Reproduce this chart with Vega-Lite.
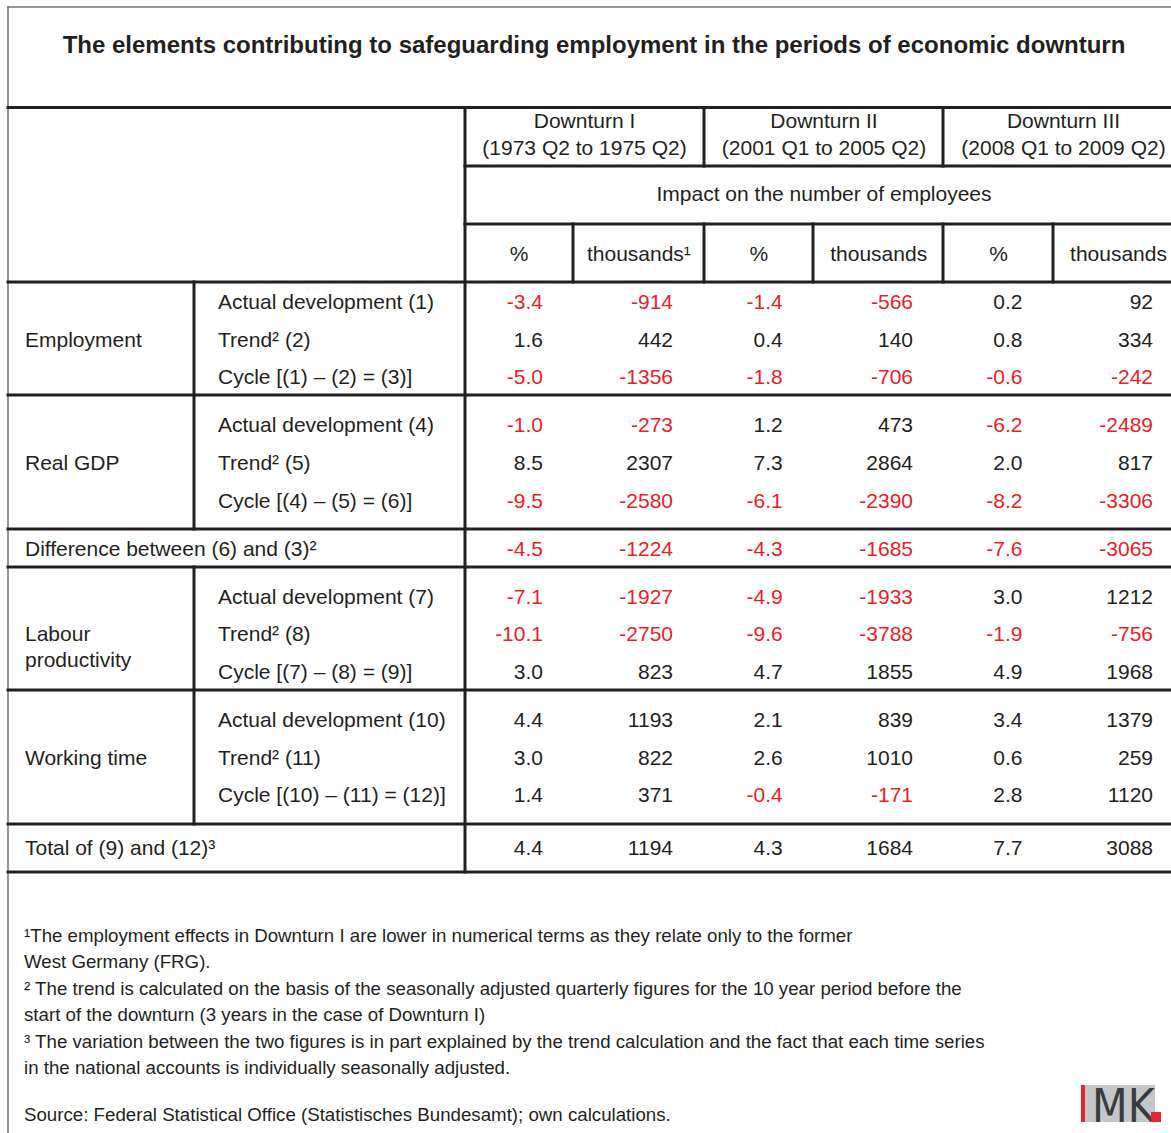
{
  "$schema": "https://vega.github.io/schema/vega-lite/v6.json",
  "width": 1171,
  "height": 1133,
  "autosize": {"type": "none"},
  "padding": 0,
  "background": "white",
  "config": {
    "view": {"stroke": null},
    "locale": {"number": {"decimal": ".", "thousands": ",", "grouping": [3], "currency": ["", ""], "minus": "-"}},
    "text": {"font": "Liberation Sans, Arial, sans-serif", "fontSize": 21, "color": "#231f20", "baseline": "middle"}
  },
  "datasets": {
    "lines": [
      {"kind": "frame", "x0": 0, "x1": 8, "y0": -0.5, "y1": -0.5},
      {"kind": "frame", "x0": 0, "x1": 0, "y0": -0.5, "y1": 25.5},
      {"kind": "grid", "x0": 0, "x1": 8, "y0": 0.5, "y1": 0.5},
      {"kind": "grid", "x0": 2, "x1": 8, "y0": 2.5, "y1": 2.5},
      {"kind": "grid", "x0": 2, "x1": 8, "y0": 3.5, "y1": 3.5},
      {"kind": "grid", "x0": 0, "x1": 8, "y0": 4.5, "y1": 4.5},
      {"kind": "grid", "x0": 0, "x1": 8, "y0": 7.5, "y1": 7.5},
      {"kind": "grid", "x0": 0, "x1": 8, "y0": 10.5, "y1": 10.5},
      {"kind": "grid", "x0": 0, "x1": 8, "y0": 11.5, "y1": 11.5},
      {"kind": "grid", "x0": 0, "x1": 8, "y0": 14.5, "y1": 14.5},
      {"kind": "grid", "x0": 0, "x1": 8, "y0": 17.5, "y1": 17.5},
      {"kind": "grid", "x0": 0, "x1": 8, "y0": 18.5, "y1": 18.5},
      {"kind": "grid", "x0": 2, "x1": 2, "y0": 0.5, "y1": 18.5},
      {"kind": "grid", "x0": 1, "x1": 1, "y0": 4.5, "y1": 10.5},
      {"kind": "grid", "x0": 1, "x1": 1, "y0": 11.5, "y1": 17.5},
      {"kind": "grid", "x0": 4, "x1": 4, "y0": 0.5, "y1": 2.5},
      {"kind": "grid", "x0": 6, "x1": 6, "y0": 0.5, "y1": 2.5},
      {"kind": "grid", "x0": 3, "x1": 3, "y0": 3.5, "y1": 4.5},
      {"kind": "grid", "x0": 4, "x1": 4, "y0": 3.5, "y1": 4.5},
      {"kind": "grid", "x0": 5, "x1": 5, "y0": 3.5, "y1": 4.5},
      {"kind": "grid", "x0": 6, "x1": 6, "y0": 3.5, "y1": 4.5},
      {"kind": "grid", "x0": 7, "x1": 7, "y0": 3.5, "y1": 4.5}
    ],
    "heads": [
      {"text": "Downturn I", "downturn": "I", "row": 1},
      {"text": "(1973 Q2 to 1975 Q2)", "downturn": "I", "row": 2},
      {"text": "Downturn II", "downturn": "II", "row": 1},
      {"text": "(2001 Q1 to 2005 Q2)", "downturn": "II", "row": 2},
      {"text": "Downturn III", "downturn": "III", "row": 1},
      {"text": "(2008 Q1 to 2009 Q2)", "downturn": "III", "row": 2},
      {"text": "Impact on the number of employees", "downturn": "II", "row": 3}
    ],
    "units": [
      {"text": "%", "col": 1, "row": 4},
      {"text": "thousands¹", "col": 2, "row": 4},
      {"text": "%", "col": 3, "row": 4},
      {"text": "thousands", "col": 4, "row": 4},
      {"text": "%", "col": 5, "row": 4},
      {"text": "thousands", "col": 6, "row": 4}
    ],
    "labels": [
      {"text": "Employment", "level": 0, "row": 6},
      {"text": "Actual development (1)", "level": 1, "row": 5},
      {"text": "Trend² (2)", "level": 1, "row": 6},
      {"text": "Cycle [(1) – (2) = (3)]", "level": 1, "row": 7},
      {"text": "Real GDP", "level": 0, "row": 9},
      {"text": "Actual development (4)", "level": 1, "row": 8},
      {"text": "Trend² (5)", "level": 1, "row": 9},
      {"text": "Cycle [(4) – (5) = (6)]", "level": 1, "row": 10},
      {"text": "Difference between (6) and (3)²", "level": 0, "row": 11},
      {"text": "Labour\nproductivity", "level": 0, "row": 13},
      {"text": "Actual development (7)", "level": 1, "row": 12},
      {"text": "Trend² (8)", "level": 1, "row": 13},
      {"text": "Cycle [(7) – (8) = (9)]", "level": 1, "row": 14},
      {"text": "Working time", "level": 0, "row": 16},
      {"text": "Actual development (10)", "level": 1, "row": 15},
      {"text": "Trend² (11)", "level": 1, "row": 16},
      {"text": "Cycle [(10) – (11) = (12)]", "level": 1, "row": 17},
      {"text": "Total of (9) and (12)³", "level": 0, "row": 18}
    ],
    "notes": [
      {"text": "¹The employment effects in Downturn I are lower in numerical terms as they relate only to the former", "row": 19},
      {"text": "West Germany (FRG).", "row": 20},
      {"text": "² The trend is calculated on the basis of the seasonally adjusted quarterly figures for the 10 year period before the", "row": 21},
      {"text": "start of the downturn (3 years in the case of Downturn I)", "row": 22},
      {"text": "³ The variation between the two figures is in part explained by the trend calculation and the fact that each time series", "row": 23},
      {"text": "in the national accounts is individually seasonally adjusted.", "row": 24},
      {"text": "Source: Federal Statistical Office (Statistisches Bundesamt); own calculations.", "row": 25}
    ],
    "values": [
      {"row": 5, "downturn": "I", "unit": "%", "value": -3.4},
      {"row": 5, "downturn": "I", "unit": "thousands", "value": -914},
      {"row": 5, "downturn": "II", "unit": "%", "value": -1.4},
      {"row": 5, "downturn": "II", "unit": "thousands", "value": -566},
      {"row": 5, "downturn": "III", "unit": "%", "value": 0.2},
      {"row": 5, "downturn": "III", "unit": "thousands", "value": 92},
      {"row": 6, "downturn": "I", "unit": "%", "value": 1.6},
      {"row": 6, "downturn": "I", "unit": "thousands", "value": 442},
      {"row": 6, "downturn": "II", "unit": "%", "value": 0.4},
      {"row": 6, "downturn": "II", "unit": "thousands", "value": 140},
      {"row": 6, "downturn": "III", "unit": "%", "value": 0.8},
      {"row": 6, "downturn": "III", "unit": "thousands", "value": 334},
      {"row": 7, "downturn": "I", "unit": "%", "value": -5.0},
      {"row": 7, "downturn": "I", "unit": "thousands", "value": -1356},
      {"row": 7, "downturn": "II", "unit": "%", "value": -1.8},
      {"row": 7, "downturn": "II", "unit": "thousands", "value": -706},
      {"row": 7, "downturn": "III", "unit": "%", "value": -0.6},
      {"row": 7, "downturn": "III", "unit": "thousands", "value": -242},
      {"row": 8, "downturn": "I", "unit": "%", "value": -1.0},
      {"row": 8, "downturn": "I", "unit": "thousands", "value": -273},
      {"row": 8, "downturn": "II", "unit": "%", "value": 1.2},
      {"row": 8, "downturn": "II", "unit": "thousands", "value": 473},
      {"row": 8, "downturn": "III", "unit": "%", "value": -6.2},
      {"row": 8, "downturn": "III", "unit": "thousands", "value": -2489},
      {"row": 9, "downturn": "I", "unit": "%", "value": 8.5},
      {"row": 9, "downturn": "I", "unit": "thousands", "value": 2307},
      {"row": 9, "downturn": "II", "unit": "%", "value": 7.3},
      {"row": 9, "downturn": "II", "unit": "thousands", "value": 2864},
      {"row": 9, "downturn": "III", "unit": "%", "value": 2.0},
      {"row": 9, "downturn": "III", "unit": "thousands", "value": 817},
      {"row": 10, "downturn": "I", "unit": "%", "value": -9.5},
      {"row": 10, "downturn": "I", "unit": "thousands", "value": -2580},
      {"row": 10, "downturn": "II", "unit": "%", "value": -6.1},
      {"row": 10, "downturn": "II", "unit": "thousands", "value": -2390},
      {"row": 10, "downturn": "III", "unit": "%", "value": -8.2},
      {"row": 10, "downturn": "III", "unit": "thousands", "value": -3306},
      {"row": 11, "downturn": "I", "unit": "%", "value": -4.5},
      {"row": 11, "downturn": "I", "unit": "thousands", "value": -1224},
      {"row": 11, "downturn": "II", "unit": "%", "value": -4.3},
      {"row": 11, "downturn": "II", "unit": "thousands", "value": -1685},
      {"row": 11, "downturn": "III", "unit": "%", "value": -7.6},
      {"row": 11, "downturn": "III", "unit": "thousands", "value": -3065},
      {"row": 12, "downturn": "I", "unit": "%", "value": -7.1},
      {"row": 12, "downturn": "I", "unit": "thousands", "value": -1927},
      {"row": 12, "downturn": "II", "unit": "%", "value": -4.9},
      {"row": 12, "downturn": "II", "unit": "thousands", "value": -1933},
      {"row": 12, "downturn": "III", "unit": "%", "value": 3.0},
      {"row": 12, "downturn": "III", "unit": "thousands", "value": 1212},
      {"row": 13, "downturn": "I", "unit": "%", "value": -10.1},
      {"row": 13, "downturn": "I", "unit": "thousands", "value": -2750},
      {"row": 13, "downturn": "II", "unit": "%", "value": -9.6},
      {"row": 13, "downturn": "II", "unit": "thousands", "value": -3788},
      {"row": 13, "downturn": "III", "unit": "%", "value": -1.9},
      {"row": 13, "downturn": "III", "unit": "thousands", "value": -756},
      {"row": 14, "downturn": "I", "unit": "%", "value": 3.0},
      {"row": 14, "downturn": "I", "unit": "thousands", "value": 823},
      {"row": 14, "downturn": "II", "unit": "%", "value": 4.7},
      {"row": 14, "downturn": "II", "unit": "thousands", "value": 1855},
      {"row": 14, "downturn": "III", "unit": "%", "value": 4.9},
      {"row": 14, "downturn": "III", "unit": "thousands", "value": 1968},
      {"row": 15, "downturn": "I", "unit": "%", "value": 4.4},
      {"row": 15, "downturn": "I", "unit": "thousands", "value": 1193},
      {"row": 15, "downturn": "II", "unit": "%", "value": 2.1},
      {"row": 15, "downturn": "II", "unit": "thousands", "value": 839},
      {"row": 15, "downturn": "III", "unit": "%", "value": 3.4},
      {"row": 15, "downturn": "III", "unit": "thousands", "value": 1379},
      {"row": 16, "downturn": "I", "unit": "%", "value": 3.0},
      {"row": 16, "downturn": "I", "unit": "thousands", "value": 822},
      {"row": 16, "downturn": "II", "unit": "%", "value": 2.6},
      {"row": 16, "downturn": "II", "unit": "thousands", "value": 1010},
      {"row": 16, "downturn": "III", "unit": "%", "value": 0.6},
      {"row": 16, "downturn": "III", "unit": "thousands", "value": 259},
      {"row": 17, "downturn": "I", "unit": "%", "value": 1.4},
      {"row": 17, "downturn": "I", "unit": "thousands", "value": 371},
      {"row": 17, "downturn": "II", "unit": "%", "value": -0.4},
      {"row": 17, "downturn": "II", "unit": "thousands", "value": -171},
      {"row": 17, "downturn": "III", "unit": "%", "value": 2.8},
      {"row": 17, "downturn": "III", "unit": "thousands", "value": 1120},
      {"row": 18, "downturn": "I", "unit": "%", "value": 4.4},
      {"row": 18, "downturn": "I", "unit": "thousands", "value": 1194},
      {"row": 18, "downturn": "II", "unit": "%", "value": 4.3},
      {"row": 18, "downturn": "II", "unit": "thousands", "value": 1684},
      {"row": 18, "downturn": "III", "unit": "%", "value": 7.7},
      {"row": 18, "downturn": "III", "unit": "thousands", "value": 3088}
    ],
    "logo": [
      {"part": "panel", "x0": 0, "x1": 74, "y0": 0, "y1": 37},
      {"part": "bar", "x0": 0, "x1": 4, "y0": 0, "y1": 37},
      {"part": "dot", "x0": 70, "x1": 80, "y0": 27, "y1": 37}
    ]
  },
  "resolve": {"scale": {"x": "independent", "y": "independent", "color": "independent", "strokeWidth": "independent"}},
  "layer": [
    {
      "data": {"name": "logo"},
      "transform": [{"filter": "datum.part === 'panel'"}],
      "mark": {"type": "rect", "fill": "#c4c7ca"},
      "encoding": {
        "x": {"field": "x0", "type": "quantitative", "axis": null, "scale": {"zero": false, "nice": false, "domain": [0, 80], "range": [1081, 1161]}},
        "x2": {"field": "x1"},
        "y": {"field": "y0", "type": "quantitative", "axis": null, "scale": {"zero": false, "nice": false, "domain": [0, 37], "range": [1085, 1122]}},
        "y2": {"field": "y1"}
      }
    },
    {
      "data": {"name": "lines"},
      "mark": {"type": "rule", "strokeCap": "square"},
      "encoding": {
        "x": {"field": "x0", "type": "quantitative", "axis": null, "scale": {"type": "linear", "zero": false, "nice": false, "domain": [0, 1, 2, 3, 4, 5, 6, 7, 8], "range": [8, 194, 465, 573, 704, 813, 943, 1053, 1184]}},
        "x2": {"field": "x1"},
        "y": {"field": "y0", "type": "quantitative", "axis": null, "scale": {"type": "linear", "zero": false, "nice": false, "domain": [-0.5, 0, 0.5, 1, 2, 2.5, 3, 3.5, 4, 4.5, 5, 6, 7, 7.5, 8, 9, 10, 10.5, 11, 11.5, 12, 13, 14, 14.5, 15, 16, 17, 17.5, 18, 18.5, 19, 20, 21, 22, 23, 24, 25, 25.5], "range": [7, 46, 107.5, 122, 149, 166, 195, 224, 255, 282, 303, 341, 378, 395, 426, 464, 502, 529, 550, 567, 598, 635, 673, 690, 721, 759, 796, 824, 849, 872, 936, 962, 989, 1015, 1042, 1068, 1115, 1140]}},
        "y2": {"field": "y1"},
        "strokeWidth": {"field": "kind", "type": "nominal", "legend": null, "scale": {"domain": ["frame", "grid"], "range": [1.5, 3]}},
        "color": {"field": "kind", "type": "nominal", "legend": null, "scale": {"domain": ["frame", "grid"], "range": ["#707173", "#231f20"]}}
      }
    },
    {
      "data": {"values": [{"text": "The elements contributing to safeguarding employment in the periods of economic downturn", "row": 0}]},
      "mark": {"type": "text", "fontSize": 24, "fontWeight": "bold", "align": "center", "dx": 8.5},
      "encoding": {
        "text": {"field": "text"},
        "y": {"field": "row", "type": "quantitative", "axis": null, "scale": {"type": "linear", "zero": false, "nice": false, "domain": [-0.5, 0, 0.5, 1, 2, 2.5, 3, 3.5, 4, 4.5, 5, 6, 7, 7.5, 8, 9, 10, 10.5, 11, 11.5, 12, 13, 14, 14.5, 15, 16, 17, 17.5, 18, 18.5, 19, 20, 21, 22, 23, 24, 25, 25.5], "range": [7, 46, 107.5, 122, 149, 166, 195, 224, 255, 282, 303, 341, 378, 395, 426, 464, 502, 529, 550, 567, 598, 635, 673, 690, 721, 759, 796, 824, 849, 872, 936, 962, 989, 1015, 1042, 1068, 1115, 1140]}}
      }
    },
    {
      "data": {"name": "heads"},
      "mark": {"type": "text", "align": "center"},
      "encoding": {
        "text": {"field": "text"},
        "x": {"field": "downturn", "type": "nominal", "axis": null, "scale": {"type": "point", "domain": ["I", "II", "III"], "range": [584.5, 1063.5], "padding": 0}},
        "y": {"field": "row", "type": "quantitative", "axis": null, "scale": {"type": "linear", "zero": false, "nice": false, "domain": [-0.5, 0, 0.5, 1, 2, 2.5, 3, 3.5, 4, 4.5, 5, 6, 7, 7.5, 8, 9, 10, 10.5, 11, 11.5, 12, 13, 14, 14.5, 15, 16, 17, 17.5, 18, 18.5, 19, 20, 21, 22, 23, 24, 25, 25.5], "range": [7, 46, 107.5, 122, 149, 166, 195, 224, 255, 282, 303, 341, 378, 395, 426, 464, 502, 529, 550, 567, 598, 635, 673, 690, 721, 759, 796, 824, 849, 872, 936, 962, 989, 1015, 1042, 1068, 1115, 1140]}}
      }
    },
    {
      "data": {"name": "units"},
      "mark": {"type": "text", "align": "center"},
      "encoding": {
        "text": {"field": "text"},
        "x": {"field": "col", "type": "quantitative", "axis": null, "scale": {"type": "linear", "zero": false, "nice": false, "domain": [1, 6], "range": [519, 1118.5]}},
        "y": {"field": "row", "type": "quantitative", "axis": null, "scale": {"type": "linear", "zero": false, "nice": false, "domain": [-0.5, 0, 0.5, 1, 2, 2.5, 3, 3.5, 4, 4.5, 5, 6, 7, 7.5, 8, 9, 10, 10.5, 11, 11.5, 12, 13, 14, 14.5, 15, 16, 17, 17.5, 18, 18.5, 19, 20, 21, 22, 23, 24, 25, 25.5], "range": [7, 46, 107.5, 122, 149, 166, 195, 224, 255, 282, 303, 341, 378, 395, 426, 464, 502, 529, 550, 567, 598, 635, 673, 690, 721, 759, 796, 824, 849, 872, 936, 962, 989, 1015, 1042, 1068, 1115, 1140]}}
      }
    },
    {
      "data": {"name": "labels"},
      "mark": {"type": "text", "align": "left", "lineBreak": "\n", "lineHeight": 26},
      "encoding": {
        "text": {"field": "text"},
        "x": {"field": "level", "type": "quantitative", "axis": null, "scale": {"type": "linear", "zero": false, "nice": false, "domain": [0, 1], "range": [25, 218]}},
        "y": {"field": "row", "type": "quantitative", "axis": null, "scale": {"type": "linear", "zero": false, "nice": false, "domain": [-0.5, 0, 0.5, 1, 2, 2.5, 3, 3.5, 4, 4.5, 5, 6, 7, 7.5, 8, 9, 10, 10.5, 11, 11.5, 12, 13, 14, 14.5, 15, 16, 17, 17.5, 18, 18.5, 19, 20, 21, 22, 23, 24, 25, 25.5], "range": [7, 46, 107.5, 122, 149, 166, 195, 224, 255, 282, 303, 341, 378, 395, 426, 464, 502, 529, 550, 567, 598, 635, 673, 690, 721, 759, 796, 824, 849, 872, 936, 962, 989, 1015, 1042, 1068, 1115, 1140]}}
      }
    },
    {
      "data": {"name": "notes"},
      "mark": {"type": "text", "align": "left", "fontSize": 18.7, "dx": 24},
      "encoding": {
        "text": {"field": "text"},
        "x": {"datum": 0, "type": "quantitative", "axis": null, "scale": {"type": "linear", "zero": false, "nice": false, "domain": [0, 1], "range": [0, 1]}},
        "y": {"field": "row", "type": "quantitative", "axis": null, "scale": {"type": "linear", "zero": false, "nice": false, "domain": [-0.5, 0, 0.5, 1, 2, 2.5, 3, 3.5, 4, 4.5, 5, 6, 7, 7.5, 8, 9, 10, 10.5, 11, 11.5, 12, 13, 14, 14.5, 15, 16, 17, 17.5, 18, 18.5, 19, 20, 21, 22, 23, 24, 25, 25.5], "range": [7, 46, 107.5, 122, 149, 166, 195, 224, 255, 282, 303, 341, 378, 395, 426, 464, 502, 529, 550, 567, 598, 635, 673, 690, 721, 759, 796, 824, 849, 872, 936, 962, 989, 1015, 1042, 1068, 1115, 1140]}}
      }
    },
    {
      "data": {"name": "values"},
      "transform": [{"filter": "datum.unit === '%'"}],
      "mark": {"type": "text", "align": "right"},
      "encoding": {
        "text": {"field": "value", "type": "quantitative", "format": ".1f"},
        "x": {"field": "downturn", "type": "nominal", "axis": null, "scale": {"type": "point", "domain": ["I", "II", "III"], "range": [543, 1022.5], "padding": 0}},
        "y": {"field": "row", "type": "quantitative", "axis": null, "scale": {"type": "linear", "zero": false, "nice": false, "domain": [-0.5, 0, 0.5, 1, 2, 2.5, 3, 3.5, 4, 4.5, 5, 6, 7, 7.5, 8, 9, 10, 10.5, 11, 11.5, 12, 13, 14, 14.5, 15, 16, 17, 17.5, 18, 18.5, 19, 20, 21, 22, 23, 24, 25, 25.5], "range": [7, 46, 107.5, 122, 149, 166, 195, 224, 255, 282, 303, 341, 378, 395, 426, 464, 502, 529, 550, 567, 598, 635, 673, 690, 721, 759, 796, 824, 849, 872, 936, 962, 989, 1015, 1042, 1068, 1115, 1140]}},
        "color": {"condition": {"test": "datum.value < 0", "value": "#ed1c24"}, "value": "#231f20"}
      }
    },
    {
      "data": {"name": "values"},
      "transform": [{"filter": "datum.unit === 'thousands'"}],
      "mark": {"type": "text", "align": "right"},
      "encoding": {
        "text": {"field": "value", "type": "quantitative", "format": "d"},
        "x": {"field": "downturn", "type": "nominal", "axis": null, "scale": {"type": "point", "domain": ["I", "II", "III"], "range": [673, 1153], "padding": 0}},
        "y": {"field": "row", "type": "quantitative", "axis": null, "scale": {"type": "linear", "zero": false, "nice": false, "domain": [-0.5, 0, 0.5, 1, 2, 2.5, 3, 3.5, 4, 4.5, 5, 6, 7, 7.5, 8, 9, 10, 10.5, 11, 11.5, 12, 13, 14, 14.5, 15, 16, 17, 17.5, 18, 18.5, 19, 20, 21, 22, 23, 24, 25, 25.5], "range": [7, 46, 107.5, 122, 149, 166, 195, 224, 255, 282, 303, 341, 378, 395, 426, 464, 502, 529, 550, 567, 598, 635, 673, 690, 721, 759, 796, 824, 849, 872, 936, 962, 989, 1015, 1042, 1068, 1115, 1140]}},
        "color": {"condition": {"test": "datum.value < 0", "value": "#ed1c24"}, "value": "#231f20"}
      }
    },
    {
      "data": {"values": [{"text": "MK", "lx": 11, "ly": 36.5}]},
      "mark": {"type": "text", "align": "left", "baseline": "alphabetic", "fontSize": 46, "font": "Liberation Sans Narrow, DejaVu Sans Condensed, sans-serif", "color": "#3b3c3e"},
      "encoding": {
        "text": {"field": "text"},
        "x": {"field": "lx", "type": "quantitative", "axis": null, "scale": {"zero": false, "nice": false, "domain": [0, 80], "range": [1081, 1161]}},
        "y": {"field": "ly", "type": "quantitative", "axis": null, "scale": {"zero": false, "nice": false, "domain": [0, 37], "range": [1085, 1122]}}
      }
    },
    {
      "data": {"name": "logo"},
      "transform": [{"filter": "datum.part !== 'panel'"}],
      "mark": {"type": "rect", "fill": "#e3262d"},
      "encoding": {
        "x": {"field": "x0", "type": "quantitative", "axis": null, "scale": {"zero": false, "nice": false, "domain": [0, 80], "range": [1081, 1161]}},
        "x2": {"field": "x1"},
        "y": {"field": "y0", "type": "quantitative", "axis": null, "scale": {"zero": false, "nice": false, "domain": [0, 37], "range": [1085, 1122]}},
        "y2": {"field": "y1"}
      }
    }
  ]
}
